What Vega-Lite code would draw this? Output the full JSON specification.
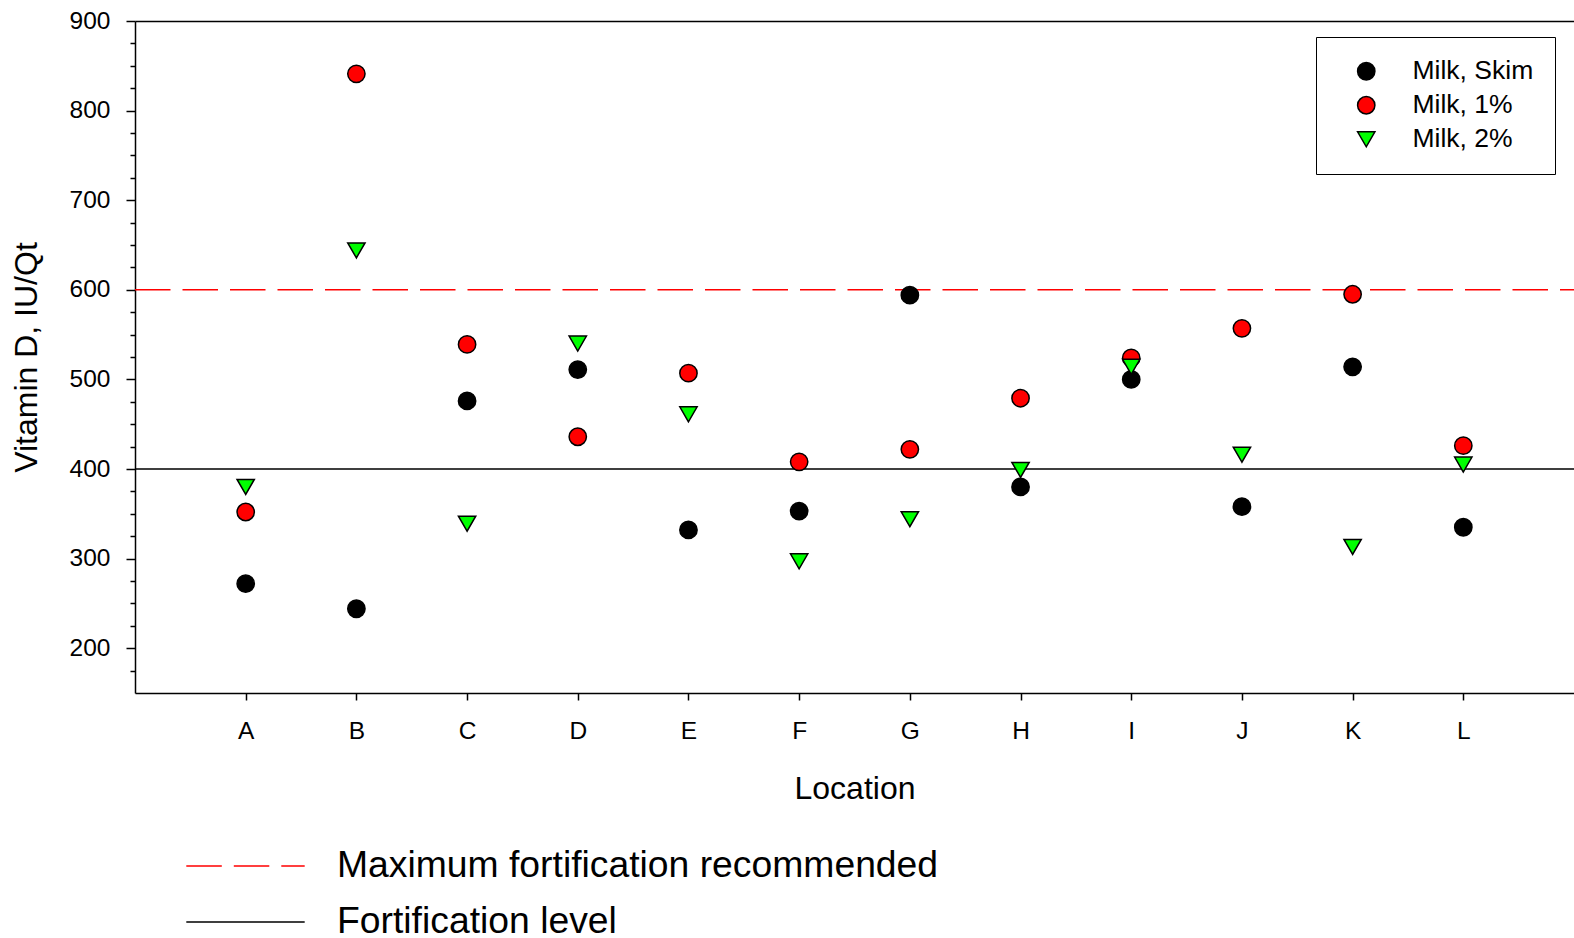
{
  "$schema": "https://vega.github.io/schema/vega-lite/v6.json",
  "width": 1439,
  "height": 672,
  "autosize": {"type": "none"},
  "padding": {"left": 135, "top": 21, "right": 0, "bottom": 245},
  "background": "white",
  "config": {
    "view": {"stroke": null},
    "font": "Liberation Sans",
    "axis": {"labelFont": "Liberation Sans", "titleFont": "Liberation Sans", "labelColor": "black", "titleColor": "black", "titleFontWeight": "normal", "domainColor": "black", "tickColor": "black", "grid": false},
    "legend": {"labelFont": "Liberation Sans", "labelColor": "black"}
  },
  "datasets": {
    "milk": [
      {"location": "A", "series": "Milk, Skim", "vitd": 272},
      {"location": "B", "series": "Milk, Skim", "vitd": 244},
      {"location": "C", "series": "Milk, Skim", "vitd": 476},
      {"location": "D", "series": "Milk, Skim", "vitd": 511},
      {"location": "E", "series": "Milk, Skim", "vitd": 332},
      {"location": "F", "series": "Milk, Skim", "vitd": 353},
      {"location": "G", "series": "Milk, Skim", "vitd": 594},
      {"location": "H", "series": "Milk, Skim", "vitd": 380},
      {"location": "I", "series": "Milk, Skim", "vitd": 500},
      {"location": "J", "series": "Milk, Skim", "vitd": 358},
      {"location": "K", "series": "Milk, Skim", "vitd": 514},
      {"location": "L", "series": "Milk, Skim", "vitd": 335},
      {"location": "A", "series": "Milk, 1%", "vitd": 352},
      {"location": "B", "series": "Milk, 1%", "vitd": 841},
      {"location": "C", "series": "Milk, 1%", "vitd": 539},
      {"location": "D", "series": "Milk, 1%", "vitd": 436},
      {"location": "E", "series": "Milk, 1%", "vitd": 507},
      {"location": "F", "series": "Milk, 1%", "vitd": 408},
      {"location": "G", "series": "Milk, 1%", "vitd": 422},
      {"location": "H", "series": "Milk, 1%", "vitd": 479},
      {"location": "I", "series": "Milk, 1%", "vitd": 524},
      {"location": "J", "series": "Milk, 1%", "vitd": 557},
      {"location": "K", "series": "Milk, 1%", "vitd": 595},
      {"location": "L", "series": "Milk, 1%", "vitd": 426},
      {"location": "A", "series": "Milk, 2%", "vitd": 380},
      {"location": "B", "series": "Milk, 2%", "vitd": 644},
      {"location": "C", "series": "Milk, 2%", "vitd": 339},
      {"location": "D", "series": "Milk, 2%", "vitd": 540},
      {"location": "E", "series": "Milk, 2%", "vitd": 461},
      {"location": "F", "series": "Milk, 2%", "vitd": 297},
      {"location": "G", "series": "Milk, 2%", "vitd": 344},
      {"location": "H", "series": "Milk, 2%", "vitd": 399},
      {"location": "I", "series": "Milk, 2%", "vitd": 514},
      {"location": "J", "series": "Milk, 2%", "vitd": 416},
      {"location": "K", "series": "Milk, 2%", "vitd": 313},
      {"location": "L", "series": "Milk, 2%", "vitd": 405}
    ],
    "levels": [
      {"line": "Maximum fortification recommended", "level": 600},
      {"line": "Fortification level", "level": 400}
    ]
  },
  "layer": [
    {
      "data": {"name": "levels"},
      "mark": {"type": "rule", "strokeWidth": 1.5, "strokeDashOffset": 21.5},
      "encoding": {
        "y": {"field": "level", "type": "quantitative", "axis": null},
        "stroke": {
          "field": "line", "type": "nominal",
          "scale": {"domain": ["Maximum fortification recommended", "Fortification level"], "range": ["#ff0000", "#000000"]},
          "legend": {
            "title": null, "orient": "none", "legendX": 91, "legendY": 825.5,
            "symbolType": "M-3.2,0H3.2", "symbolSize": 1369, "symbolStrokeWidth": 1.5,
            "labelFontSize": 37.3, "labelOffset": 72, "rowPadding": 18, "padding": 0, "labelLimit": 0
          }
        },
        "strokeDash": {
          "field": "line", "type": "nominal",
          "scale": {"domain": ["Maximum fortification recommended", "Fortification level"], "range": [[35.5, 12], [1, 0]]},
          "legend": {
            "title": null, "orient": "none", "legendX": 91, "legendY": 825.5,
            "symbolType": "M-3.2,0H3.2", "symbolSize": 1369, "symbolStrokeWidth": 1.5,
            "labelFontSize": 37.3, "labelOffset": 72, "rowPadding": 18, "padding": 0, "labelLimit": 0
          }
        }
      }
    },
    {
      "data": {"name": "milk"},
      "mark": {"type": "point", "filled": true, "stroke": "black", "strokeWidth": 1.5, "opacity": 1},
      "encoding": {
        "x": {
          "field": "location", "type": "nominal",
          "scale": {"type": "point", "padding": 1},
          "axis": {"orient": "bottom", "title": "Location", "titleFontSize": 32, "titlePadding": 30.5, "labelFontSize": 24.5, "labelAngle": 0, "labelPadding": 19, "tickSize": 7, "tickWidth": 1.5, "domainWidth": 1.5}
        },
        "y": {
          "field": "vitd", "type": "quantitative",
          "scale": {"domain": [150, 900], "nice": false, "zero": false},
          "axis": {
            "orient": "left",
            "title": "Vitamin D, IU/Qt", "titleFontSize": 32, "titlePadding": 26,
            "values": [200, 300, 400, 500, 600, 700, 800, 900],
            "labelFontSize": 24.5, "labelPadding": 16,
            "tickSize": 9, "tickWidth": 1.5, "domainWidth": 1.5
          }
        },
        "fill": {
          "field": "series", "type": "nominal",
          "scale": {"domain": ["Milk, Skim", "Milk, 1%", "Milk, 2%"], "range": ["#000000", "#ff0000", "#00ff00"]},
          "legend": {
            "title": null, "orient": "none", "legendX": 1181, "legendY": 16,
            "strokeColor": "black", "padding": 21, "labelFontSize": 26.5, "symbolOffset": 16, "labelOffset": 33, "rowPadding": 7, "symbolSize": 300, "fillColor": "white",
            "encode": {"symbols": {"update": {"stroke": {"value": "black"}, "strokeWidth": {"value": 1.5}}}}
          }
        },
        "shape": {
          "field": "series", "type": "nominal",
          "scale": {"domain": ["Milk, Skim", "Milk, 1%", "Milk, 2%"], "range": ["circle", "circle", "triangle-down"]},
          "legend": {
            "title": null, "orient": "none", "legendX": 1181, "legendY": 16,
            "strokeColor": "black", "padding": 21, "labelFontSize": 26.5, "symbolOffset": 16, "labelOffset": 33, "rowPadding": 7, "symbolSize": 300, "fillColor": "white",
            "encode": {"symbols": {"update": {"stroke": {"value": "black"}, "strokeWidth": {"value": 1.5}}}}
          }
        },
        "size": {"value": 300}
      }
    },
    {
      "data": {"name": "milk"},
      "mark": {"type": "point", "opacity": 0},
      "encoding": {
        "x": {
          "field": "location", "type": "nominal",
          "axis": {"orient": "top", "title": null, "labels": false, "ticks": false, "domain": true, "domainWidth": 1.5, "domainColor": "black"}
        },
        "y": {
          "field": "vitd", "type": "quantitative",
          "axis": {"orient": "left", "title": null, "labels": false, "domain": false, "tickSize": 5, "tickWidth": 1.5,
            "values": [175, 225, 250, 275, 325, 350, 375, 425, 450, 475, 525, 550, 575, 625, 650, 675, 725, 750, 775, 825, 850, 875]}
        }
      }
    }
  ],
  "resolve": {"axis": {"x": "independent", "y": "independent"}}
}
